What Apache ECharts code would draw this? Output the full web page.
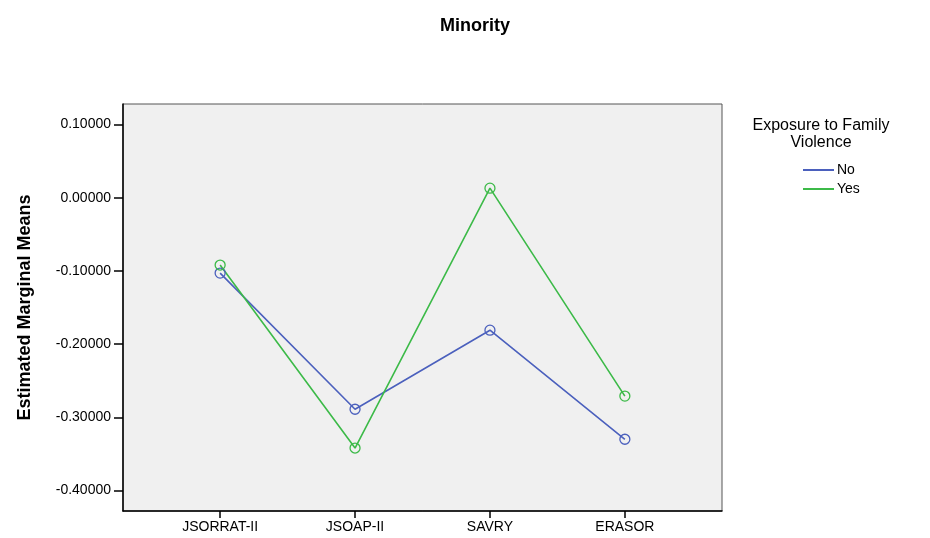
<!DOCTYPE html>
<html>
<head>
<meta charset="utf-8">
<script src="https://cdn.jsdelivr.net/npm/echarts@6/dist/echarts.min.js"></script>
<style>html,body{margin:0;padding:0;background:#fff;}#c{width:930px;height:538px;}</style>
</head>
<body>
<div id="c"></div>
<script>
var categories = ['JSORRAT-II', 'JSOAP-II', 'SAVRY', 'ERASOR'];
var noValues = [-0.103, -0.289, -0.181, -0.330];
var yesValues = [-0.092, -0.342, 0.013, -0.271];
var yTicks = [-0.4, -0.3, -0.2, -0.1, 0.0, 0.1];
var seriesNames = ['No', 'Yes'];
var seriesColors = ['#4b60bd', '#3cba48'];

function toPoints(vals) { return vals.map(function (v, i) { return [i, v]; }); }
var idx = categories.map(function (c, i) { return i; });
var font = '"Liberation Sans", Arial, sans-serif';

function makeSeries(k, vals) {
  return { name: seriesNames[k], type: 'line', data: toPoints(vals), symbol: 'circle', symbolSize: 10,
    lineStyle: { width: 1.6, color: seriesColors[k] },
    itemStyle: { color: 'rgba(0,0,0,0)', borderColor: seriesColors[k], borderWidth: 1.3 } };
}

var chart = echarts.init(document.getElementById('c'));
chart.setOption({
  animation: false,
  title: [
    { text: 'Minority', left: 470, top: 12, textAlign: 'center',
      textStyle: { fontFamily: font, fontSize: 18, fontWeight: 'bold', color: '#000' } },
    { text: 'Exposure to Family\nViolence', left: 816, top: 112, textAlign: 'center',
      textStyle: { fontFamily: font, fontSize: 16, fontWeight: 'normal', color: '#000', lineHeight: 17 } }
  ],
  legend: {
    orient: 'vertical', left: 803, top: 163, padding: 0, icon: 'rect', itemWidth: 31, itemHeight: 2, itemGap: 5,
    textStyle: { fontFamily: font, fontSize: 14, color: '#000', padding: [0, 0, 0, -2] },
    data: seriesNames.map(function (n, k) { return { name: n, itemStyle: { color: seriesColors[k], borderWidth: 0 } }; })
  },
  grid: { left: 123, top: 104, right: 208, bottom: 27, show: true, backgroundColor: '#f0f0f0',
          borderColor: '#555', borderWidth: 1 },
  xAxis: {
    type: 'value', min: -0.72, max: 3.72,
    splitLine: { show: false },
    axisLine: { show: true, onZero: false, lineStyle: { color: '#000', width: 1.5 } },
    axisTick: { show: true, length: 7, inside: false, customValues: idx, lineStyle: { color: '#000', width: 1.5 } },
    axisLabel: { customValues: idx, margin: 9, fontFamily: font, fontSize: 14, color: '#000',
      formatter: function (v) { return categories[Math.round(v)]; } }
  },
  yAxis: {
    type: 'value', min: -0.428, max: 0.128,
    name: 'Estimated Marginal Means', nameLocation: 'middle', nameGap: 89, nameRotate: 90,
    nameTextStyle: { fontFamily: font, fontSize: 18, fontWeight: 'bold', color: '#000' },
    splitLine: { show: false },
    axisLine: { show: true, onZero: false, lineStyle: { color: '#000', width: 1.5 } },
    axisTick: { show: true, length: 9, customValues: yTicks, lineStyle: { color: '#000', width: 1.5 } },
    axisLabel: { customValues: yTicks, margin: 12, fontFamily: font, fontSize: 14, color: '#000',
      formatter: function (v) { return v.toFixed(5); } }
  },
  series: [ makeSeries(0, noValues), makeSeries(1, yesValues) ]
});
</script>
</body>
</html>
